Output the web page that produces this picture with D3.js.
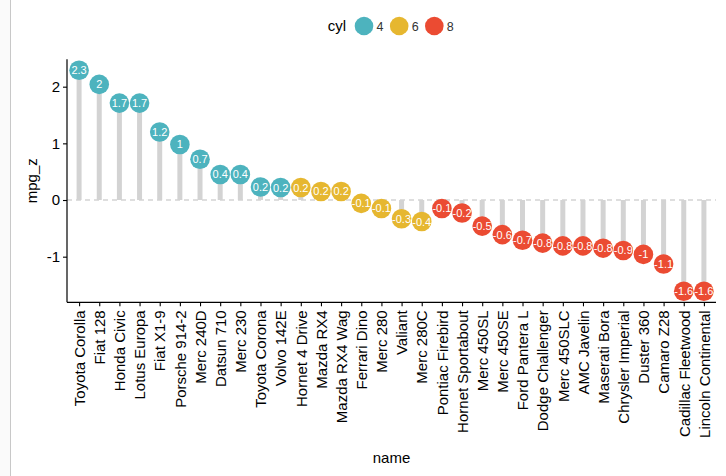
<!DOCTYPE html>
<html><head><meta charset="utf-8">
<script src="https://cdn.jsdelivr.net/npm/d3@7"></script>
<style>body{margin:0;background:#fff;} svg{display:block;font-family:"Liberation Sans",Arial,Helvetica,sans-serif;}</style>
</head><body>
<svg id="c" width="726" height="476"></svg>
<script>
const names = ["Toyota Corolla","Fiat 128","Honda Civic","Lotus Europa","Fiat X1-9","Porsche 914-2","Merc 240D","Datsun 710","Merc 230","Toyota Corona","Volvo 142E","Hornet 4 Drive","Mazda RX4","Mazda RX4 Wag","Ferrari Dino","Merc 280","Valiant","Merc 280C","Pontiac Firebird","Hornet Sportabout","Merc 450SL","Merc 450SE","Ford Pantera L","Dodge Challenger","Merc 450SLC","AMC Javelin","Maserati Bora","Chrysler Imperial","Duster 360","Camaro Z28","Cadillac Fleetwood","Lincoln Continental"];
const mpgZ = [2.29,2.04,1.71,1.71,1.20,0.98,0.72,0.45,0.45,0.23,0.22,0.22,0.15,0.15,-0.06,-0.15,-0.33,-0.38,-0.15,-0.23,-0.46,-0.61,-0.71,-0.76,-0.81,-0.81,-0.85,-0.89,-0.96,-1.13,-1.61,-1.61];
const labels = ["2.3","2","1.7","1.7","1.2","1","0.7","0.4","0.4","0.2","0.2","0.2","0.2","0.2","-0.1","-0.1","-0.3","-0.4","-0.1","-0.2","-0.5","-0.6","-0.7","-0.8","-0.8","-0.8","-0.8","-0.9","-1","-1.1","-1.6","-1.6"];
const cyl = ["4","4","4","4","4","4","4","4","4","4","4","6","6","6","6","6","6","6","8","8","8","8","8","8","8","8","8","8","8","8","8","8"];
const cylLevels = ["4","6","8"];
const palette = ["#4DB3BE","#E6B730","#EB4B32"];
const yTicks = [-1,0,1,2];
const yTickLabels = ["-1","0","1","2"];

const svg = d3.select("#c");
// left page border
svg.append("rect").attr("x",0).attr("y",0).attr("width",10).attr("height",476).attr("fill","#fafafa");
svg.append("line").attr("x1",10.5).attr("x2",10.5).attr("y1",0).attr("y2",476).attr("stroke","#c8c8c8").attr("stroke-width",1);

const L = 67, R = 716, T = 59.2, B = 302.3;
const x = d3.scalePoint().domain(names).range([L, R]).padding(0.6);
const ext = d3.extent(mpgZ); const pad = (ext[1]-ext[0])*0.05;
const y = d3.scaleLinear().domain([ext[0]-pad, ext[1]+pad]).range([B, T]);
const color = d3.scaleOrdinal().domain(cylLevels).range(palette);

const data = names.map((n,i)=>({name:n, v:mpgZ[i], lab:labels[i], cyl:cyl[i]}));

// segments
svg.append("g").selectAll("line").data(data).join("line")
  .attr("x1",d=>x(d.name)).attr("x2",d=>x(d.name))
  .attr("y1",y(0)).attr("y2",d=>y(d.v))
  .attr("stroke","#d3d3d3").attr("stroke-width",5);
// zero line
svg.append("line").attr("x1",L).attr("x2",R).attr("y1",y(0)).attr("y2",y(0))
  .attr("stroke","#d3d3d3").attr("stroke-width",1.3).attr("stroke-dasharray","5,4");
// dots
svg.append("g").selectAll("circle").data(data).join("circle")
  .attr("cx",d=>x(d.name)).attr("cy",d=>y(d.v)).attr("r",9.8)
  .attr("fill",d=>color(d.cyl));
svg.append("g").selectAll("text").data(data).join("text")
  .attr("x",d=>x(d.name)).attr("y",d=>y(d.v)).attr("dy","0.36em")
  .attr("text-anchor","middle").attr("fill","#fff").attr("font-size",11)
  .text(d=>d.lab);

// axes
const yAxis = d3.axisLeft(y).tickValues(yTicks).tickSize(4).tickPadding(3)
  .tickFormat((d,i)=>yTickLabels[i]);
const gy = svg.append("g").attr("transform",`translate(${L},0)`).call(yAxis);
gy.select(".domain").attr("d",`M0,${T}V${B}`);
const xAxis = d3.axisBottom(x).tickSize(4).tickPadding(3);
const gx = svg.append("g").attr("transform",`translate(0,${B})`).call(xAxis);
gx.select(".domain").attr("d",`M${L},0H${R}`);
[gx,gy].forEach(g=>{
  g.attr("font-family",null);
  g.select(".domain").attr("stroke","#000").attr("stroke-width",1.2);
  g.selectAll(".tick line").attr("stroke","#000").attr("stroke-width",1.1);
  g.selectAll(".tick text").attr("fill","#000").attr("font-size",15);
});
gx.selectAll(".tick text").attr("transform","rotate(-90)").attr("text-anchor","end")
  .attr("x",-8).attr("y",0).attr("dy","0.35em");

// axis titles
svg.append("text").attr("x",(L+R)/2).attr("y",463).attr("text-anchor","middle").attr("font-size",15).attr("fill","#000").text("name");
svg.append("text").attr("transform",`translate(36.5,${(T+B)/2}) rotate(-90)`).attr("text-anchor","middle").attr("font-size",15).attr("fill","#000").text("mpg_z");

// legend
const lg = svg.append("g");
lg.append("text").attr("x",346).attr("y",26).attr("dy","0.35em").attr("text-anchor","end").attr("font-size",15).attr("fill","#000").text("cyl");
const lx = [364, 399.2, 434.3];
cylLevels.forEach((c,i)=>{
  lg.append("circle").attr("cx",lx[i]).attr("cy",26).attr("r",9.3).attr("fill",color(c));
  lg.append("text").attr("x",lx[i]+12.5).attr("y",26).attr("dy","0.36em").attr("font-size",12.5).attr("fill","#333").text(c);
});
</script>
</body></html>
